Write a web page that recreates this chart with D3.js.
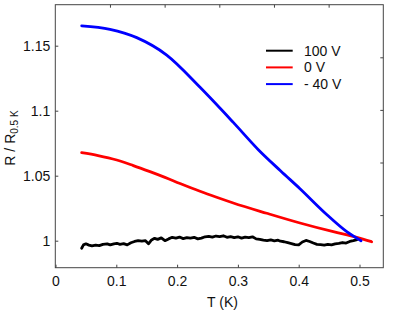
<!DOCTYPE html>
<html>
<head>
<meta charset="utf-8">
<script src="https://cdn.jsdelivr.net/npm/d3@7"></script>
<style>
  body { margin: 0; background: #fff; }
  text { font-family: "Liberation Sans", Arial, sans-serif; fill: #111; }
</style>
</head>
<body>
<div id="chart"></div>
<script>
// series data: [T (K), R / R0.5K]
const black100 = [
  [0.043, 0.9942], [0.046, 0.9968], [0.050, 0.9976], [0.055, 0.9966], [0.060, 0.9960],
  [0.066, 0.9966], [0.072, 0.9962], [0.078, 0.9972], [0.085, 0.9976], [0.090, 0.9968],
  [0.096, 0.9976], [0.101, 0.9980], [0.106, 0.9972], [0.112, 0.9978], [0.118, 0.9968],
  [0.124, 0.9984], [0.130, 0.9994], [0.136, 1.0000], [0.142, 0.9996], [0.148, 1.0000],
  [0.153, 0.9976], [0.158, 1.0006], [0.163, 1.0018], [0.168, 1.0010], [0.174, 1.0022],
  [0.180, 1.0000], [0.186, 1.0014], [0.192, 1.0026], [0.198, 1.0020], [0.204, 1.0028],
  [0.210, 1.0016], [0.216, 1.0024], [0.222, 1.0020], [0.228, 1.0026], [0.234, 1.0014],
  [0.240, 1.0020], [0.246, 1.0030], [0.252, 1.0034], [0.258, 1.0028], [0.264, 1.0036],
  [0.270, 1.0032], [0.276, 1.0038], [0.282, 1.0026], [0.288, 1.0032], [0.294, 1.0024],
  [0.300, 1.0030], [0.306, 1.0020], [0.312, 1.0028], [0.318, 1.0024], [0.324, 1.0030],
  [0.330, 1.0014], [0.336, 1.0010], [0.342, 1.0004], [0.348, 1.0000], [0.354, 1.0006],
  [0.360, 0.9998], [0.366, 1.0004], [0.370, 0.9996], [0.376, 0.9992], [0.382, 0.9985],
  [0.388, 0.9978], [0.394, 0.9970], [0.400, 0.9968], [0.406, 0.9990], [0.412, 1.0002],
  [0.418, 0.9994], [0.424, 0.9982], [0.430, 0.9972], [0.436, 0.9970], [0.442, 0.9966],
  [0.448, 0.9972], [0.454, 0.9968], [0.460, 0.9976], [0.466, 0.9980], [0.472, 0.9986],
  [0.478, 0.9982], [0.484, 0.9994], [0.490, 1.0000], [0.496, 1.0008]
];
const red0 = [
  [0.043, 1.0677], [0.070, 1.0655], [0.1007, 1.0621], [0.128, 1.0578], [0.1554, 1.0531],
  [0.180, 1.0487], [0.2048, 1.0440], [0.2377, 1.0380], [0.265, 1.0334], [0.2924, 1.0290],
  [0.3474, 1.0211], [0.4021, 1.0136], [0.4569, 1.0069], [0.4954, 1.0026], [0.520, 0.9992]
];
const blueNeg40 = [
  [0.0431, 1.1652], [0.0896, 1.1626], [0.1336, 1.1562], [0.1829, 1.1428], [0.2377, 1.1180],
  [0.2924, 1.0910], [0.3336, 1.0700], [0.3700, 1.0538], [0.4021, 1.0400], [0.446, 1.0202],
  [0.479, 1.0070], [0.5025, 1.0000]
];

const seriesNames = ['100 V', '0 V', '- 40 V'];
const seriesColors = ['#000', '#f00', '#00f'];
const xTicks = [0, 0.1, 0.2, 0.3, 0.4, 0.5];
const yTicks = [1, 1.05, 1.1, 1.15];

const W = 397, H = 313;
const frame = {left: 55.3, top: 4.7, right: 383.3, bottom: 267.7};

let svg = d3.select('#chart').append('svg')
  .attr('width', W).attr('height', H);

let x = d3.scaleLinear().domain([0, 0.5]).range([55.5, 359.5]);
let y = d3.scaleLinear().domain([1, 1.15]).range([240.7, 45.7]);

// the frame ticks on top / right don't line up with the data axes in the original
let xTop = d3.scaleLinear().domain([0, 0.6]).range([frame.left, frame.right]);
let yRight = d3.scaleLinear().domain([0, 5]).range([frame.bottom, frame.top]);

// data lines
let line = d3.line()
  .x(d => x(d[0]))
  .y(d => y(d[1]));

let dataCont = svg.append('g').attr('class', 'dataCont');
[black100, red0, blueNeg40].forEach((s, i) => {
  dataCont.append('path')
    .datum(s)
    .attr('fill', 'none')
    .attr('stroke', seriesColors[i])
    .attr('stroke-width', 2.8)
    .attr('stroke-linejoin', 'round')
    .attr('stroke-linecap', 'round')
    .attr('d', i === 0 ? line.curve(d3.curveLinear)(s) : line.curve(d3.curveMonotoneX)(s));
});

// frame
svg.append('rect')
  .attr('x', frame.left).attr('y', frame.top)
  .attr('width', frame.right - frame.left)
  .attr('height', frame.bottom - frame.top)
  .attr('fill', 'none').attr('stroke', '#444').attr('stroke-width', 1);

// bottom axis
let xAxisCont = svg.append('g').attr('transform', `translate(0, ${frame.bottom})`);
xAxisCont.call(d3.axisBottom(x).tickValues(xTicks).tickSize(-3).tickPadding(8)
  .tickFormat(d => d === 0 ? '0' : d3.format('.1f')(d)));
xAxisCont.select('.domain').remove();
xAxisCont.selectAll('.tick line').attr('stroke', '#444');
xAxisCont.selectAll('.tick text').attr('font-size', 14).attr('font-family', null).attr('fill', '#111');

// left axis
let yAxisCont = svg.append('g').attr('transform', `translate(${frame.left}, 0)`);
yAxisCont.call(d3.axisLeft(y).tickValues(yTicks).tickSize(-3).tickPadding(5)
  .tickFormat(d3.format('~g')));
yAxisCont.select('.domain').remove();
yAxisCont.selectAll('.tick line').attr('stroke', '#444');
yAxisCont.selectAll('.tick text').attr('font-size', 14).attr('font-family', null).attr('fill', '#111');

// top / right frame ticks
let topCont = svg.append('g').attr('transform', `translate(0, ${frame.top})`);
topCont.call(d3.axisTop(xTop).tickValues([0.1, 0.2, 0.3, 0.4, 0.5]).tickSize(-3).tickFormat(''));
topCont.select('.domain').remove();
topCont.selectAll('.tick line').attr('stroke', '#444');

let rightCont = svg.append('g').attr('transform', `translate(${frame.right}, 0)`);
rightCont.call(d3.axisRight(yRight).tickValues([1, 2, 3, 4]).tickSize(-3).tickFormat(''));
rightCont.select('.domain').remove();
rightCont.selectAll('.tick line').attr('stroke', '#444');

// axis titles
svg.append('text')
  .attr('x', 222.5).attr('y', 307)
  .attr('text-anchor', 'middle').attr('font-size', 14)
  .text('T (K)');

let yLabel = svg.append('text')
  .attr('transform', 'translate(15, 138) rotate(-90)')
  .attr('text-anchor', 'middle').attr('font-size', 14);
yLabel.append('tspan').text('R / R');
yLabel.append('tspan').attr('font-size', 10).attr('dy', 3).text('0.5 K');

// legend
let legend = svg.append('g').attr('class', 'legend');
seriesNames.forEach((name, i) => {
  let ly = 50.7 + i * 16.7;
  legend.append('line')
    .attr('x1', 266).attr('x2', 292.7)
    .attr('y1', ly).attr('y2', ly)
    .attr('stroke', seriesColors[i]).attr('stroke-width', 2);
  legend.append('text')
    .attr('x', 304).attr('y', ly + 5)
    .attr('font-size', 14)
    .text(name);
});
</script>
</body>
</html>
